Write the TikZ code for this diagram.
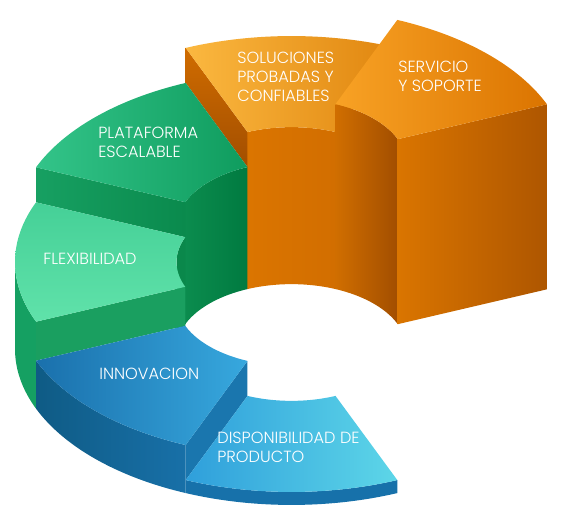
\documentclass[tikz,border=0pt]{standalone}
\usepackage{fontspec}
\setmainfont{Poppins}
\IfFontExistsTF{Poppins Light}{\newfontfamily\lblfont{Poppins Light}}{\newfontfamily\lblfont{Poppins}}
\usepackage{tikz}

% ring geometry (picture units are pixels, y downwards)
\def\ringcx{291.5}
\def\ringcy{349}
\def\ringRo{276.5}
\def\ringRi{115}
\def\ringk{0.564}

% top face of a block: style, from, to, height
\newcommand{\topface}[4]{%
  \path[#1] plot[domain=#2:#3, samples=40] ({\ringcx+\ringRo*cos(\x)}, {\ringcy-\ringk*\ringRo*sin(\x)-#4})
    -- plot[domain=#3:#2, samples=40] ({\ringcx+\ringRi*cos(\x)}, {\ringcy-\ringk*\ringRi*sin(\x)-#4}) -- cycle;}
% curved wall: style, radius, from, to, height
\newcommand{\wallface}[5]{%
  \path[#1] plot[domain=#3:#4, samples=40] ({\ringcx+#2*cos(\x)}, {\ringcy-\ringk*#2*sin(\x)-#5})
    -- plot[domain=#4:#3, samples=40] ({\ringcx+#2*cos(\x)}, {\ringcy-\ringk*#2*sin(\x)}) -- cycle;}
% radial cut face: style, angle, low, high
\newcommand{\cutface}[4]{%
  \path[#1] ({\ringcx+\ringRi*cos(#2)}, {\ringcy-\ringk*\ringRi*sin(#2)-#4})
    -- ({\ringcx+\ringRo*cos(#2)}, {\ringcy-\ringk*\ringRo*sin(#2)-#4})
    -- ({\ringcx+\ringRo*cos(#2)}, {\ringcy-\ringk*\ringRo*sin(#2)-#3})
    -- ({\ringcx+\ringRi*cos(#2)}, {\ringcy-\ringk*\ringRi*sin(#2)-#3}) -- cycle;}

\definecolor{srvTopA}{HTML}{F8A225}
\definecolor{srvTopB}{HTML}{DB7400}
\definecolor{srvEndA}{HTML}{DA7500}
\definecolor{srvEndB}{HTML}{AE5600}
\definecolor{srvInA}{HTML}{D06E00}
\definecolor{srvInB}{HTML}{A24E00}
\definecolor{solTopA}{HTML}{FBB840}
\definecolor{solTopB}{HTML}{E0850E}
\definecolor{solInA}{HTML}{DB7500}
\definecolor{solInB}{HTML}{D26E00}
\definecolor{solEndA}{HTML}{D06C00}
\definecolor{solEndB}{HTML}{A24E00}
\definecolor{plaTopA}{HTML}{33C489}
\definecolor{plaTopB}{HTML}{0F9C5E}
\definecolor{plaEndA}{HTML}{17A062}
\definecolor{plaEndB}{HTML}{0A8A4D}
\definecolor{plaInA}{HTML}{0B8C4E}
\definecolor{plaInB}{HTML}{007A40}
\definecolor{flxTopA}{HTML}{45D097}
\definecolor{flxTopB}{HTML}{60E2AA}
\definecolor{flxEnd}{HTML}{1A9F60}
\definecolor{flxIn}{HTML}{0A884B}
\definecolor{flxOut}{HTML}{15A062}
\definecolor{innTopA}{HTML}{1A70AC}
\definecolor{innTopB}{HTML}{37A8DE}
\definecolor{innOutA}{HTML}{0F5B85}
\definecolor{innOutB}{HTML}{1870A8}
\definecolor{innEnd}{HTML}{1A76AE}
\definecolor{dspTopA}{HTML}{2F9FDB}
\definecolor{dspTopB}{HTML}{5DD6E8}
\definecolor{dspOut}{HTML}{1771AA}

\begin{document}
\begin{tikzpicture}[x=0.02cm, y=-0.02cm,
    lbl/.style={anchor=west, align=left, text=white, inner sep=0pt,
      font=\lblfont\fontsize{9.2}{10.8}\selectfont}
]
\useasboundingbox (0,0) rectangle (561,519);

% Soluciones probadas y confiables
\wallface{left color=solInA, right color=solInB}{\ringRi}{67.5}{112.5}{157}
\cutface{top color=solEndA, bottom color=solEndB}{112.5}{122}{157}
\topface{left color=solTopA, right color=solTopB}{67.5}{112.5}{157}

% Servicio y soporte
\wallface{left color=srvInA, right color=srvInB}{\ringRi}{22.5}{67.5}{185}
\cutface{left color=srvEndA, right color=srvEndB}{22.5}{0}{185}
\topface{left color=srvTopA, right color=srvTopB}{22.5}{67.5}{185}

% Plataforma escalable
\wallface{left color=plaInA, right color=plaInB}{\ringRi}{112.5}{157.5}{122}
\cutface{left color=plaEndA, right color=plaEndB}{157.5}{87}{122}
\topface{left color=plaTopA, right color=plaTopB}{112.5}{157.5}{122}

% Flexibilidad
\wallface{fill=flxOut}{\ringRo}{180}{202.5}{87}
\wallface{fill=flxIn}{\ringRi}{157.5}{180}{87}
\cutface{fill=flxEnd}{202.5}{48}{87}
\topface{top color=flxTopA, bottom color=flxTopB}{157.5}{202.5}{87}

% Innovacion
\wallface{left color=innOutA, right color=innOutB}{\ringRo}{202.5}{247.5}{48}
\cutface{fill=innEnd}{247.5}{13}{48}
\topface{left color=innTopA, right color=innTopB}{202.5}{247.5}{48}

% Disponibilidad de producto
\wallface{fill=dspOut}{\ringRo}{247.5}{292.5}{13}
\topface{left color=dspTopA, right color=dspTopB}{247.5}{292.5}{13}

% Labels
\node[lbl] (lsol) at (237,77) {SOLUCIONES\\PROBADAS Y\\CONFIABLES};
\node[lbl] (lsrv) at (398,76.5) {SERVICIO\\Y SOPORTE};
\node[lbl] (lpla) at (98,142.5) {PLATAFORMA\\ESCALABLE};
\node[lbl] (lflx) at (43,259) {FLEXIBILIDAD};
\node[lbl] (linn) at (99,374) {INNOVACION};
\node[lbl] (ldsp) at (217,447.5) {DISPONIBILIDAD DE\\PRODUCTO};

\end{tikzpicture}
\end{document}
